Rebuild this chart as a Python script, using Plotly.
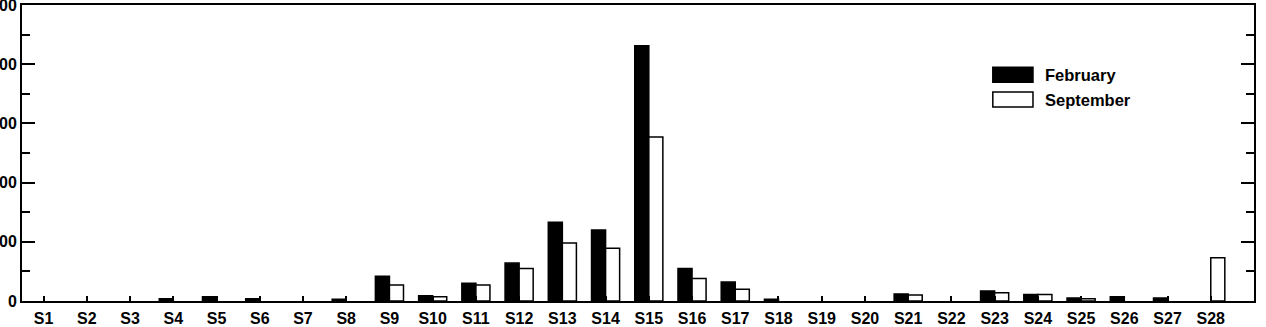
import plotly.graph_objects as go

categories = [f"S{i}" for i in range(1, 29)]
february = [0, 0, 0, 4, 7, 4, 0, 3, 42, 9, 30, 64, 133, 120, 431, 55, 32, 3, 0, 0, 12, 0, 17, 11, 5, 7, 5, 0]
september = [0, 0, 0, 0, 0, 0, 0, 0, 27, 7, 27, 55, 98, 89, 277, 38, 20, 0, 0, 0, 10, 0, 14, 11, 4, 0, 0, 73]
y_ticks = [0, 100, 200, 300, 400, 500]
legend_names = ["February", "September"]

FONT = dict(family="Liberation Sans, Arial, sans-serif", size=16, color="black", weight=700)


def outline(vals):
    return [1.5 if v > 0 else 0 for v in vals]


fig = go.Figure()
fig.add_trace(go.Bar(x=categories, y=february, name=legend_names[0],
                     marker=dict(color="black", line=dict(color="black", width=outline(february))),
                     showlegend=False))
fig.add_trace(go.Bar(x=categories, y=september, name=legend_names[1],
                     marker=dict(color="white", line=dict(color="black", width=outline(september))),
                     showlegend=False))

# custom legend (swatches + labels)
sw = [(0.788, 0.8206, 0.739, 0.790, "black"), (0.788, 0.8206, 0.655, 0.706, "white")]
for (x0, x1, y0, y1, c), name in zip(sw, legend_names):
    fig.add_shape(type="rect", xref="paper", yref="paper", x0=x0, x1=x1, y0=y0, y1=y1,
                  fillcolor=c, line=dict(color="black", width=1.5))
    fig.add_annotation(xref="paper", yref="paper", x=0.8285, y=(y0 + y1) / 2,
                       text=name, showarrow=False, xanchor="left", yanchor="middle",
                       font=dict(FONT, size=16.5))

fig.update_layout(
    template="none",
    width=1266, height=327,
    margin=dict(l=22, r=12, t=5, b=26, autoexpand=False),
    barmode="group", bargap=0.35, bargroupgap=0,
    plot_bgcolor="white", paper_bgcolor="white",
    font=FONT,
)
fig.update_xaxes(
    type="category", range=[-0.5, 28], automargin=False,
    showline=True, linecolor="black", linewidth=2, mirror=True,
    ticks="inside", ticklen=5, tickwidth=1.5, tickcolor="black",
    showgrid=False, zeroline=False, tickfont=FONT, ticklabelstandoff=2,
)
fig.update_yaxes(
    range=[0, 500], automargin=False,
    tickvals=y_ticks, ticktext=[str(v) for v in y_ticks],
    ticklabeloverflow="allow",
    showline=True, linecolor="black", linewidth=2, mirror="ticks",
    ticks="inside", ticklen=13, tickwidth=2, tickcolor="black",
    minor=dict(ticks="inside", ticklen=8, tickwidth=2, tickcolor="black", dtick=50, showgrid=False),
    showgrid=False, zeroline=False, tickfont=FONT,
)

fig.write_html("out.html")
